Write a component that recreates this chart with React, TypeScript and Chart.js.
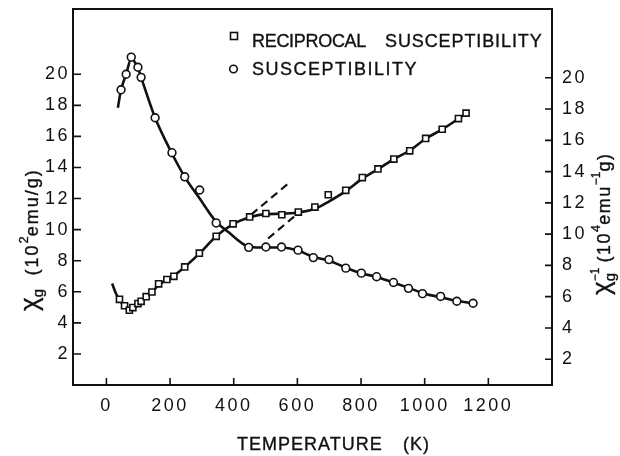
import { useEffect, useRef } from 'react';
import { Chart, registerables } from 'chart.js';

Chart.register(...registerables);

const FONT = '"Liberation Sans", Arial, sans-serif';
const INK = '#111';

// Measured susceptibility (left axis, 10^2 emu/g)
const suscT = [46, 62, 78, 99, 109, 153, 206, 246, 293, 345, 447, 501, 550, 602, 650, 699, 752, 801, 849, 902, 949, 993, 1050, 1101, 1152];
const suscV = [19.0, 20.0, 21.1, 20.45, 19.8, 17.2, 14.95, 13.4, 12.55, 10.43, 8.86, 8.88, 8.88, 8.68, 8.2, 8.07, 7.52, 7.2, 6.97, 6.6, 6.22, 5.88, 5.7, 5.39, 5.26];

// Measured reciprocal susceptibility (right axis, 10^4 emu^-1 g)
const recipT = [41, 57, 72, 83, 99, 109, 125, 143, 164, 190, 212, 246, 292, 345, 398, 450, 501, 551, 603, 655, 697, 752, 804, 853, 903, 953, 1003, 1055, 1106, 1130];
const recipV = [5.83, 5.42, 5.13, 5.3, 5.56, 5.7, 6.0, 6.3, 6.82, 7.1, 7.3, 7.9, 8.78, 9.86, 10.66, 11.1, 11.32, 11.24, 11.41, 11.73, 12.52, 12.8, 13.62, 14.17, 14.8, 15.33, 16.12, 16.71, 17.39, 17.74];

// Drawn fit curves
const suscCurveT = [36, 46, 62, 78, 99, 109, 153, 206, 246, 293, 345, 382, 440, 470, 550, 602, 650, 700, 752, 800, 850, 900, 950, 1000, 1050, 1100, 1152];
const suscCurveV = [17.85, 19.0, 20.0, 21.0, 20.4, 19.8, 17.2, 14.9, 13.4, 12.0, 10.5, 9.86, 8.95, 8.85, 8.85, 8.65, 8.25, 8.0, 7.55, 7.2, 6.95, 6.6, 6.25, 5.88, 5.65, 5.42, 5.26];
const recipCurveT = [18, 30, 41, 57, 72, 90, 109, 125, 144, 164, 212, 246, 292, 345, 398, 450, 500, 550, 603, 655, 700, 752, 804, 853, 903, 953, 1003, 1055, 1106, 1130];
const recipCurveV = [6.84, 6.2, 5.8, 5.38, 5.15, 5.3, 5.68, 5.98, 6.3, 6.75, 7.35, 7.9, 8.75, 9.86, 10.64, 11.08, 11.28, 11.3, 11.38, 11.62, 12.1, 12.75, 13.55, 14.15, 14.8, 15.35, 16.1, 16.7, 17.38, 17.72];

// Dashed extrapolation lines (right axis)
const dashUpperT = [455, 578];
const dashUpperV = [11.25, 13.35];
const dashLowerT = [508, 600];
const dashLowerV = [9.72, 11.3];

// Ticks
const xTicks = [0, 200, 400, 600, 800, 1000, 1200];
const leftTicks = [2, 4, 6, 8, 10, 12, 14, 16, 18, 20];
const rightTicks = [2, 4, 6, 8, 10, 12, 14, 16, 18, 20];

const pts = (xs: number[], ys: number[]) => xs.map((x, i) => ({ x, y: ys[i] }));

type Part = { text: string; size: number; dy?: number; ls?: number; dx?: number; noAdvance?: boolean };

function drawRich(ctx: CanvasRenderingContext2D, parts: Part[], x: number, y: number, angle: number) {
  ctx.save();
  ctx.translate(x, y);
  ctx.rotate(angle);
  ctx.fillStyle = INK;
  ctx.strokeStyle = INK;
  ctx.lineWidth = 0.35;
  ctx.textBaseline = 'alphabetic';
  ctx.textAlign = 'left';
  let u = 0;
  for (const p of parts) {
    ctx.font = `${p.size}px ${FONT}`;
    (ctx as any).letterSpacing = `${p.ls ?? 0}px`;
    const dx = p.dx ?? 0;
    ctx.fillText(p.text, u + dx, p.dy ?? 0);
    ctx.strokeText(p.text, u + dx, p.dy ?? 0);
    if (!p.noAdvance) u += ctx.measureText(p.text).width + dx;
  }
  ctx.restore();
}

const decorPlugin = {
  id: 'decor',
  beforeDraw(chart: any) {
    const ctx = chart.ctx as CanvasRenderingContext2D;
    ctx.save();
    ctx.fillStyle = '#fff';
    ctx.fillRect(0, 0, chart.width, chart.height);
    ctx.restore();
    (ctx as any).letterSpacing = '2.5px';
  },
  beforeDatasetsDraw(chart: any) {
    const ctx = chart.ctx as CanvasRenderingContext2D;
    const { left, right, top, bottom } = chart.chartArea;
    const sx = chart.scales.x;
    const sy = chart.scales.y;
    const sy2 = chart.scales.y2;
    ctx.save();
    ctx.strokeStyle = INK;
    ctx.lineWidth = 2;
    ctx.strokeRect(left, top, right - left, bottom - top);
    ctx.lineWidth = 1.6;
    ctx.beginPath();
    for (const v of xTicks) {
      const px = sx.getPixelForValue(v);
      ctx.moveTo(px, bottom);
      ctx.lineTo(px, bottom - 7);
    }
    for (const v of leftTicks) {
      const py = sy.getPixelForValue(v);
      ctx.moveTo(left, py);
      ctx.lineTo(left + 8, py);
    }
    for (const v of rightTicks) {
      const py = sy2.getPixelForValue(v);
      ctx.moveTo(right, py);
      ctx.lineTo(right - 7, py);
    }
    ctx.stroke();
    ctx.restore();
  },
  afterDraw(chart: any) {
    const ctx = chart.ctx as CanvasRenderingContext2D;
    ctx.save();
    // Legend
    ctx.strokeStyle = INK;
    ctx.fillStyle = '#fff';
    ctx.lineWidth = 1.6;
    ctx.fillRect(230.5, 32.5, 7, 7);
    ctx.strokeRect(230.5, 32.5, 7, 7);
    ctx.beginPath();
    ctx.arc(233.5, 69, 3.8, 0, Math.PI * 2);
    ctx.fill();
    ctx.stroke();
    drawRich(ctx, [{ text: 'RECIPROCAL', size: 18, ls: -0.3 }], 252, 46.5, 0);
    drawRich(ctx, [{ text: 'SUSCEPTIBILITY', size: 18, ls: 0.9 }], 385, 46.5, 0);
    drawRich(ctx, [{ text: 'SUSCEPTIBILITY', size: 18, ls: 1.5 }], 252, 75, 0);
    // X title
    drawRich(ctx, [{ text: 'TEMPERATURE', size: 18, ls: 1 }], 237, 450, 0);
    drawRich(ctx, [{ text: '(K)', size: 18, ls: 1 }], 403, 450, 0);
    // Left title
    drawRich(
      ctx,
      [
        { text: 'χ', size: 26 },
        { text: 'g', size: 15, dy: 5 },
        { text: ' ', size: 16, dx: 9 },
        { text: '(10', size: 18, ls: 2 },
        { text: '2', size: 13, dy: -10 },
        { text: 'emu/g)', size: 18, ls: 2 },
      ],
      38,
      311,
      -Math.PI / 2
    );
    // Right title
    drawRich(
      ctx,
      [
        { text: 'χ', size: 26 },
        { text: '−1', size: 12, dy: -11, noAdvance: true },
        { text: 'g', size: 15, dy: 5 },
        { text: ' ', size: 16, dx: 6 },
        { text: '(10', size: 18, ls: 1.5 },
        { text: '4', size: 13, dy: -10 },
        { text: 'emu', size: 18, ls: 1.5 },
        { text: '−1', size: 12, dy: -10 },
        { text: 'g)', size: 18, ls: 1.5 },
      ],
      610,
      295,
      -Math.PI / 2
    );
    ctx.restore();
  },
};

export default function App() {
  const ref = useRef<HTMLCanvasElement>(null);
  useEffect(() => {
    const canvas = ref.current!;
    const tickFont = { size: 18, family: FONT };
    const noPad = (s: any) => {
      s.paddingTop = 0;
      s.paddingBottom = 0;
      s.paddingLeft = 0;
      s.paddingRight = 0;
    };
    const chart = new Chart(canvas, {
      type: 'scatter',
      data: {
        datasets: [
          {
            data: pts(suscCurveT, suscCurveV),
            yAxisID: 'y',
            showLine: true,
            borderColor: INK,
            borderWidth: 2.6,
            pointRadius: 0,
            cubicInterpolationMode: 'monotone',
            order: 3,
          } as any,
          {
            data: pts(recipCurveT, recipCurveV),
            yAxisID: 'y2',
            showLine: true,
            borderColor: INK,
            borderWidth: 2.6,
            pointRadius: 0,
            cubicInterpolationMode: 'monotone',
            order: 3,
          } as any,
          {
            data: pts(dashUpperT, dashUpperV),
            yAxisID: 'y2',
            showLine: true,
            borderColor: INK,
            borderWidth: 2.2,
            borderDash: [8, 5],
            pointRadius: 0,
            order: 3,
          } as any,
          {
            data: pts(dashLowerT, dashLowerV),
            yAxisID: 'y2',
            showLine: true,
            borderColor: INK,
            borderWidth: 2.2,
            borderDash: [8, 5],
            pointRadius: 0,
            order: 3,
          } as any,
          {
            data: pts(suscT, suscV),
            yAxisID: 'y',
            showLine: false,
            pointStyle: 'circle',
            pointRadius: 3.9,
            pointBorderWidth: 1.6,
            pointBackgroundColor: '#fff',
            pointBorderColor: INK,
            order: 1,
          } as any,
          {
            data: pts(recipT, recipV),
            yAxisID: 'y2',
            showLine: false,
            pointStyle: 'rect',
            pointRadius: 4.3,
            pointBorderWidth: 1.6,
            pointBackgroundColor: '#fff',
            pointBorderColor: INK,
            order: 1,
          } as any,
        ],
      },
      options: {
        responsive: false,
        animation: false,
        devicePixelRatio: 1,
        layout: { padding: { top: 9, left: 0, right: 0, bottom: 0 } },
        plugins: { legend: { display: false }, tooltip: { enabled: false } },
        scales: {
          x: {
            type: 'linear',
            position: 'bottom',
            min: -105,
            max: 1400,
            grid: { display: false, drawTicks: false },
            border: { display: false },
            afterBuildTicks: (s: any) => {
              s.ticks = xTicks.map((v) => ({ value: v }));
            },
            afterFit: (s: any) => {
              s.height = 71;
              noPad(s);
            },
            ticks: {
              font: tickFont,
              color: INK,
              padding: 10,
              maxRotation: 0,
              autoSkip: false,
              callback: (v: any) => String(v),
            },
          },
          y: {
            type: 'linear',
            position: 'left',
            min: 0,
            max: 24.2,
            grid: { display: false, drawTicks: false },
            border: { display: false },
            afterBuildTicks: (s: any) => {
              s.ticks = leftTicks.map((v) => ({ value: v }));
            },
            afterFit: (s: any) => {
              s.width = 73;
              noPad(s);
            },
            ticks: { font: tickFont, color: INK, padding: 3, callback: (v: any) => String(v) },
          },
          y2: {
            type: 'linear',
            position: 'right',
            min: 0.35,
            max: 24.4,
            grid: { display: false, drawTicks: false },
            border: { display: false },
            afterBuildTicks: (s: any) => {
              s.ticks = rightTicks.map((v) => ({ value: v }));
            },
            afterFit: (s: any) => {
              s.width = 68;
              noPad(s);
            },
            ticks: { font: tickFont, color: INK, padding: 10, callback: (v: any) => String(v) },
          },
        },
      } as any,
      plugins: [decorPlugin],
    });
    return () => chart.destroy();
  }, []);
  return (
    <div style={{ position: 'fixed', left: 0, top: 0, width: 620, height: 456, background: '#fff' }}>
      <canvas ref={ref} width={620} height={456} style={{ display: 'block', width: 620, height: 456 }} />
    </div>
  );
}
